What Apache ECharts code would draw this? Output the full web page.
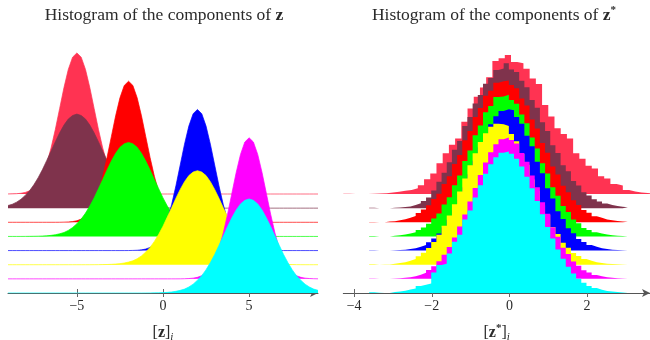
<!DOCTYPE html>
<html lang="en">
<head>
<meta charset="UTF-8">
<title>Histogram of the components</title>
<script src="https://cdn.jsdelivr.net/npm/echarts@6/dist/echarts.min.js"></script>
<style>
  html, body { margin: 0; padding: 0; background: #fff; }
  #main { width: 650px; height: 340px; }
</style>
</head>
<body>
<div id="main"></div>
<script>
// back (top) to front (bottom)
var colors = ['#ff3352', '#7f334c', '#ff0000', '#00ff00', '#0000ff', '#ffff00', '#ff00ff', '#00ffff'];
var offsets = [0.28, 0.24, 0.20, 0.16, 0.12, 0.08, 0.04, 0];

// left panel: where each curve peaks and whether it is the wide one
var centers = [-5, -5, -2, -2, 2, 2, 5, 5];
var isWide = [false, true, false, true, false, true, false, true];
// curve height read every 0.25 away from the peak
var narrowProfile = [0.399, 0.387, 0.352, 0.301, 0.242, 0.183, 0.130, 0.086, 0.054, 0.032,
  0.018, 0.009, 0.0044, 0.002, 0.0009, 0.0004, 0.0001];
var wideProfile = [0.266, 0.262, 0.252, 0.235, 0.213, 0.188, 0.161, 0.135, 0.109, 0.086,
  0.066, 0.049, 0.036, 0.025, 0.017, 0.011, 0.0075, 0.0048, 0.003, 0.0018, 0.0011, 0.0006,
  0.0004, 0.0002, 0.0001];
var profileStep = 0.25;
var zTicks = [-5, 0, 5];

// right panel: 50 bins each, first edge and bin width
var binStart = [-4.28, -3.615, -3.615, -3.615, -3.615, -3.615, -3.615, -3.615];
var binWidth = [0.16, 0.1333, 0.1333, 0.1333, 0.1333, 0.1333, 0.1333, 0.1333];
var histLightRed = [0.001, 0, 0, 0, 0.001, 0.0015, 0.002, 0.004, 0.0066, 0.0094,
  0.011, 0.016, 0.025, 0.042, 0.058, 0.087, 0.115, 0.139, 0.157, 0.2045,
  0.242, 0.275, 0.301, 0.330, 0.376, 0.384, 0.393, 0.373, 0.370, 0.354,
  0.327, 0.311, 0.252, 0.219, 0.186, 0.170, 0.157, 0.115, 0.100, 0.080,
  0.072, 0.050, 0.044, 0.028, 0.024, 0.011, 0.007, 0.004, 0.003, 0.002];
var histMaroon = [0.001, 0, 0, 0, 0.001, 0.002, 0.003, 0.005, 0.009, 0.014,
  0.020, 0.030, 0.050, 0.075, 0.100, 0.130, 0.165, 0.190, 0.232, 0.258,
  0.296, 0.320, 0.352, 0.368, 0.391, 0.395, 0.410, 0.392, 0.385, 0.360,
  0.342, 0.306, 0.284, 0.243, 0.218, 0.178, 0.156, 0.121, 0.104, 0.077,
  0.064, 0.045, 0.036, 0.025, 0.019, 0.013, 0.009, 0.0063, 0.0042, 0.0027];
var histRed = [0.001, 0, 0, 0.002, 0.003, 0.0059, 0.0088, 0.013, 0.018, 0.026,
  0.036, 0.048, 0.066, 0.081, 0.108, 0.130, 0.165, 0.190, 0.232, 0.258,
  0.298, 0.323, 0.358, 0.372, 0.395, 0.399, 0.401, 0.388, 0.379, 0.350,
  0.330, 0.291, 0.265, 0.224, 0.197, 0.158, 0.135, 0.103, 0.085, 0.062,
  0.049, 0.035, 0.027, 0.017, 0.013, 0.008, 0.006, 0.0038, 0.0024, 0.0015];
var histGreen = [0.001, 0, 0, 0, 0.002, 0.0033, 0.0052, 0.008, 0.012, 0.018,
  0.025, 0.036, 0.051, 0.065, 0.090, 0.111, 0.145, 0.172, 0.213, 0.243,
  0.286, 0.314, 0.351, 0.369, 0.394, 0.396, 0.401, 0.386, 0.375, 0.345,
  0.320, 0.280, 0.249, 0.207, 0.178, 0.139, 0.115, 0.086, 0.069, 0.048,
  0.037, 0.024, 0.018, 0.012, 0.008, 0.0052, 0.0033, 0.002, 0.0012, 0.0008];
var histBlue = [0.001, 0, 0, 0, 0.001, 0.0016, 0.0026, 0.0043, 0.0068, 0.0105,
  0.016, 0.0236, 0.034, 0.048, 0.065, 0.087, 0.114, 0.144, 0.179, 0.216,
  0.254, 0.292, 0.327, 0.357, 0.380, 0.395, 0.400, 0.397, 0.378, 0.359,
  0.325, 0.295, 0.251, 0.219, 0.176, 0.147, 0.111, 0.089, 0.063, 0.049,
  0.033, 0.024, 0.016, 0.0105, 0.0068, 0.0043, 0.0026, 0.0016, 0.001, 0.0006];
var histYellow = [0.001, 0, 0.0005, 0.0007, 0.0029, 0.0046, 0.0072, 0.011, 0.0164, 0.024,
  0.034, 0.047, 0.064, 0.085, 0.110, 0.139, 0.171, 0.207, 0.244, 0.281,
  0.315, 0.347, 0.372, 0.390, 0.399, 0.397, 0.392, 0.370, 0.349, 0.313,
  0.283, 0.241, 0.209, 0.168, 0.141, 0.107, 0.087, 0.062, 0.048, 0.033,
  0.025, 0.0164, 0.011, 0.0072, 0.0046, 0.0029, 0.0018, 0.0011, 0.0007, 0.0004];
var histMagenta = [0.001, 0, 0, 0, 0.0011, 0.0018, 0.0029, 0.0047, 0.0075, 0.0114,
  0.017, 0.025, 0.036, 0.050, 0.068, 0.090, 0.117, 0.148, 0.182, 0.219,
  0.257, 0.294, 0.329, 0.358, 0.381, 0.395, 0.400, 0.393, 0.383, 0.356,
  0.331, 0.292, 0.259, 0.217, 0.184, 0.146, 0.119, 0.088, 0.070, 0.049,
  0.037, 0.024, 0.018, 0.011, 0.0075, 0.0047, 0.0029, 0.0018, 0.0011, 0.0006];
var histCyan = [0.002, 0.001, 0, 0, 0.003, 0.004, 0.0066, 0.010, 0.013, 0.020,
  0.023, 0.027, 0.058, 0.079, 0.083, 0.112, 0.145, 0.165, 0.208, 0.233,
  0.270, 0.305, 0.337, 0.364, 0.384, 0.3965, 0.400, 0.394, 0.380, 0.358,
  0.329, 0.296, 0.260, 0.223, 0.187, 0.154, 0.123, 0.097, 0.074, 0.055,
  0.040, 0.029, 0.020, 0.014, 0.009, 0.006, 0.004, 0.0025, 0.0015, 0.001];
var hists = [histLightRed, histMaroon, histRed, histGreen, histBlue, histYellow, histMagenta, histCyan];
var zsTicks = [-4, -2, 0, 2];

var serif = 'Liberation Serif';
var ink = '#2b2b2b';
function minus(v) { return String(v).replace('-', '\u2212'); }

var series = [];
centers.forEach(function (c, i) {
  var prof = isWide[i] ? wideProfile : narrowProfile;
  var data = [];
  for (var x = -9; x <= 9.0001; x += profileStep) {
    var idx = Math.round(Math.abs(x - c) / profileStep);
    data.push([x, offsets[i] + (idx < prof.length ? prof[idx] : 0)]);
  }
  series.push({
    type: 'line', xAxisIndex: 0, yAxisIndex: 0, data: data, z: 2 + i,
    showSymbol: false, silent: true,
    lineStyle: { color: colors[i], width: 1, opacity: 0.7 },
    areaStyle: { color: colors[i], opacity: 1, origin: offsets[i] }
  });
});
hists.forEach(function (h, i) {
  var data = h.map(function (v, k) { return [binStart[i] + k * binWidth[i], offsets[i] + v]; });
  data.push([binStart[i] + h.length * binWidth[i], offsets[i]]);
  series.push({
    type: 'line', xAxisIndex: 2, yAxisIndex: 1, data: data, step: 'end', z: 2 + i,
    showSymbol: false, silent: true,
    lineStyle: { width: 0 },
    areaStyle: { color: colors[i], opacity: 1, origin: offsets[i] }
  });
});

var richText = {
  b: { fontFamily: serif, fontSize: 16, fontWeight: 'bold', color: ink, lineHeight: 20 },
  n: { fontFamily: serif, fontSize: 16, color: ink, lineHeight: 20 },
  tb: { fontFamily: serif, fontSize: 17.5, fontWeight: 'bold', color: ink, lineHeight: 20 },
  tn: { fontFamily: serif, fontSize: 17.5, color: ink, lineHeight: 20 },
  sup: { fontFamily: serif, fontSize: 11, fontWeight: 'bold', color: ink, lineHeight: 11, verticalAlign: 'top' },
  s: { fontFamily: serif, fontSize: 11, fontStyle: 'italic', color: ink, lineHeight: 11, verticalAlign: 'bottom' }
};

function bottomAxis(grid, min, max, ticks, name) {
  return [{
    gridIndex: grid, type: 'value', min: min, max: max, position: 'bottom',
    axisLine: { onZero: false, symbol: ['none', 'arrow'], symbolSize: [6, 8], lineStyle: { color: '#555', width: 1 } },
    axisTick: { customValues: ticks, length: 4, lineStyle: { color: '#666' } },
    axisLabel: { customValues: ticks, formatter: minus, fontFamily: serif, fontSize: 14, color: ink, margin: 6 },
    splitLine: { show: false },
    name: name, nameLocation: 'middle', nameGap: 30,
    nameTextStyle: { fontFamily: serif, fontSize: 16, color: ink, lineHeight: 20, rich: richText }
  }, {
    gridIndex: grid, type: 'value', min: min, max: max, position: 'bottom',
    axisLine: { show: false },
    axisTick: { customValues: ticks, inside: true, length: 4, lineStyle: { color: '#666' } },
    axisLabel: { show: false }, splitLine: { show: false }
  }];
}

var titleStyle = { fontFamily: serif, fontSize: 17.5, fontWeight: 'normal', color: ink, lineHeight: 20, rich: richText };

var chart = echarts.init(document.getElementById('main'), null, { renderer: 'canvas' });
chart.setOption({
  animation: false,
  backgroundColor: '#fff',
  title: [
    { text: '{tn|Histogram of the components of }{tb|z}', left: 159, top: 0, textAlign: 'center', textStyle: titleStyle },
    { text: '{tn|Histogram of the components of }{tb|z}{sup|*}', left: 489, top: 0, textAlign: 'center', textStyle: titleStyle }
  ],
  grid: [
    { left: 8, right: 332, top: 45.5, bottom: 47, outerBoundsMode: 'none' },
    { left: 343.3, right: 0, top: 45.5, bottom: 47, outerBoundsMode: 'none' }
  ],
  xAxis: bottomAxis(0, -9, 9, zTicks, '{n|[}{b|z}{n|]}{s|i}')
    .concat(bottomAxis(1, -4.28, 3.62, zsTicks, '{n|[}{b|z}{sup|*}{n|]}{s|i}')),
  yAxis: [
    { gridIndex: 0, type: 'value', min: 0, max: 0.7, show: false },
    { gridIndex: 1, type: 'value', min: 0, max: 0.7, show: false }
  ],
  series: series
});
</script>
</body>
</html>
